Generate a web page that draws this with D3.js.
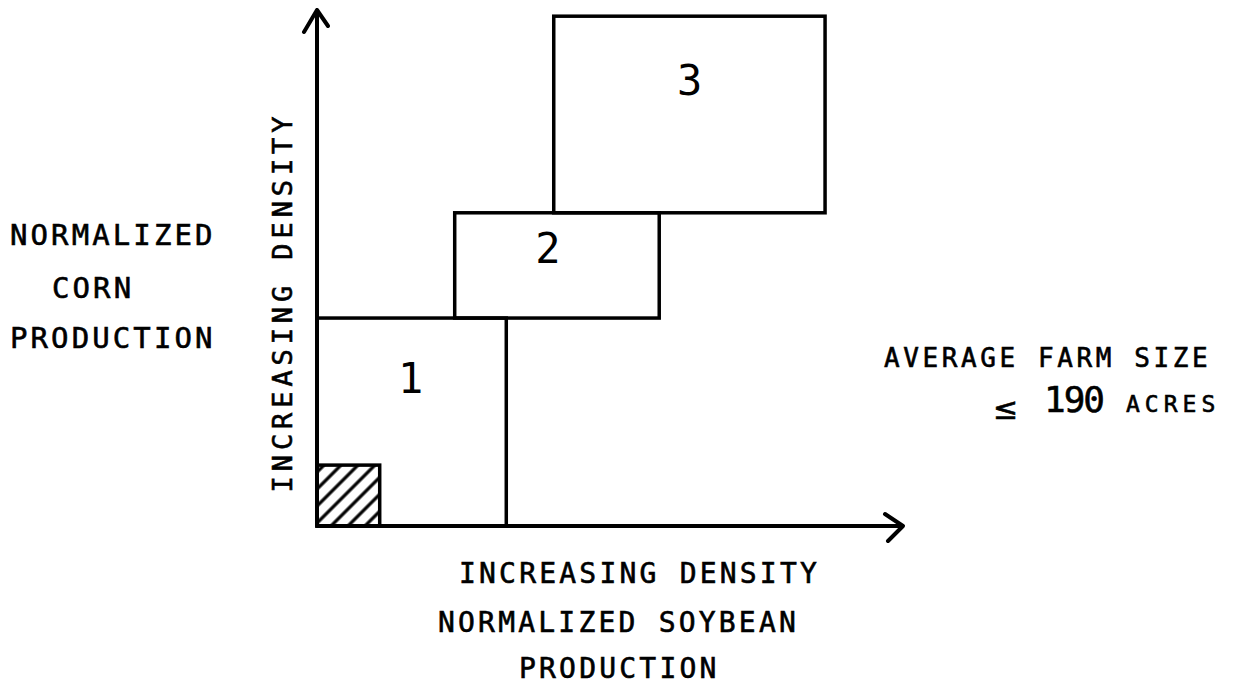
<!DOCTYPE html>
<html lang="en">
<head>
  <meta charset="UTF-8">
  <title>Corn / Soybean density regions</title>
  <script src="https://d3js.org/d3.v7.min.js"></script>
  <style>
    body { margin: 0; background: #fff; }
    text { font-family: "DejaVu Sans Mono", monospace; fill: #000; stroke: #000; stroke-width: 0.6px; }
    text.region-label { stroke-width: 0; }
  </style>
</head>
<body>
  <svg width="1237" height="690"></svg>

  <script>
    // regions in normalized density units (0-100 on each axis)
    const regionIds = ['1', '2', '3'];
    const regionX0 = [0, 23.5, 40.4];
    const regionX1 = [32.3, 58.4, 86.7];
    const regionY0 = [0, 40.3, 60.7];
    const regionY1 = [40.3, 60.7, 98.8];
    // where each number sits (center x, baseline y) in the same units
    const labelX = [16.0, 39.4, 63.6];
    const labelY = [25.8, 51.0, 83.5];

    // small hatched area near the origin
    const hatchX = [0, 10.7];
    const hatchY = [0, 11.8];

    const leftLabel = ['NORMALIZED', 'CORN', 'PRODUCTION'];
    const bottomLabel = ['INCREASING DENSITY', 'NORMALIZED SOYBEAN', 'PRODUCTION'];
    const yAxisLabel = 'INCREASING DENSITY';
    const sizeLabel = 'AVERAGE FARM SIZE';
    const sizeValue = '190';
    const sizeUnit = 'ACRES';

    const svg = d3.select('svg');

    const x = d3.scaleLinear().domain([0, 100]).range([317, 903]);
    const y = d3.scaleLinear().domain([0, 100]).range([526, 10]);

    // hatch pattern
    const defs = svg.append('defs');
    defs.append('pattern')
      .attr('id', 'hatch')
      .attr('patternUnits', 'userSpaceOnUse')
      .attr('width', 12).attr('height', 12)
      .attr('patternTransform', 'rotate(45)')
      .append('line')
      .attr('x1', 6).attr('y1', 0).attr('x2', 6).attr('y2', 12)
      .attr('stroke', '#000').attr('stroke-width', 3.2);

    svg.append('rect')
      .attr('x', x(hatchX[0]))
      .attr('y', y(hatchY[1]))
      .attr('width', x(hatchX[1]) - x(hatchX[0]))
      .attr('height', y(hatchY[0]) - y(hatchY[1]))
      .attr('fill', 'url(#hatch)')
      .attr('stroke', '#000')
      .attr('stroke-width', 3.5);

    // region boxes
    const regions = regionIds.map((id, i) => ({
      id, x0: regionX0[i], x1: regionX1[i], y0: regionY0[i], y1: regionY1[i],
      lx: labelX[i], ly: labelY[i]
    }));

    svg.selectAll('.region')
      .data(regions)
      .enter().append('rect')
      .attr('class', 'region')
      .attr('x', d => x(d.x0))
      .attr('y', d => y(d.y1))
      .attr('width', d => x(d.x1) - x(d.x0))
      .attr('height', d => y(d.y0) - y(d.y1))
      .attr('fill', 'none')
      .attr('stroke', '#000')
      .attr('stroke-width', 3.5);

    svg.selectAll('.region-label')
      .data(regions)
      .enter().append('text')
      .attr('class', 'region-label')
      .attr('x', d => x(d.lx))
      .attr('y', d => y(d.ly))
      .attr('text-anchor', 'middle')
      .attr('font-size', 42)
      .text(d => d.id);

    // axes with open arrow heads
    const axisPath = d3.path();
    axisPath.moveTo(x(0), y(0));
    axisPath.lineTo(x(0), y(100));
    axisPath.moveTo(x(0), y(0));
    axisPath.lineTo(x(100), y(0));
    // y arrow
    axisPath.moveTo(x(0) - 13, y(100) + 22);
    axisPath.lineTo(x(0), y(100));
    axisPath.lineTo(x(0) + 11, y(100) + 16);
    // x arrow
    axisPath.moveTo(x(100) - 18, y(0) - 12);
    axisPath.lineTo(x(100), y(0));
    axisPath.lineTo(x(100) - 15, y(0) + 15);

    svg.append('path')
      .attr('d', axisPath.toString())
      .attr('fill', 'none')
      .attr('stroke', '#000')
      .attr('stroke-width', 4)
      .attr('stroke-linecap', 'round')
      .attr('stroke-linejoin', 'round');

    // y axis title
    svg.append('text')
      .attr('transform', 'translate(292,302) rotate(-90)')
      .attr('text-anchor', 'middle')
      .attr('font-size', 27)
      .attr('letter-spacing', 4.9)
      .text(yAxisLabel);

    // left block
    const leftX = [10, 52, 10];
    const leftY = [245, 298, 348];
    svg.selectAll('.left-label')
      .data(leftLabel)
      .enter().append('text')
      .attr('class', 'left-label')
      .attr('x', (d, i) => leftX[i])
      .attr('y', (d, i) => leftY[i])
      .attr('font-size', 29)
      .attr('letter-spacing', 3.1)
      .text(d => d);

    // bottom block
    const bottomX = [459, 438, 519];
    const bottomY = [583, 632, 678];
    svg.selectAll('.bottom-label')
      .data(bottomLabel)
      .enter().append('text')
      .attr('class', 'bottom-label')
      .attr('x', (d, i) => bottomX[i])
      .attr('y', (d, i) => bottomY[i])
      .attr('font-size', 28)
      .attr('letter-spacing', 3.2)
      .text(d => d);

    // farm size note
    svg.append('text')
      .attr('x', 884).attr('y', 367)
      .attr('font-size', 26)
      .attr('letter-spacing', 3.6)
      .text(sizeLabel);

    const note = svg.append('text').attr('y', 412);
    note.append('tspan').attr('x', 993).attr('dy', 7).attr('font-family', 'DejaVu Sans').attr('font-size', 30).text('≤');
    note.append('tspan').attr('x', 1044).attr('dy', -7).attr('font-size', 36).attr('letter-spacing', -2).text(sizeValue);
    note.append('tspan').attr('x', 1126).attr('font-size', 23).attr('letter-spacing', 5).text(sizeUnit);
  </script>
</body>
</html>
